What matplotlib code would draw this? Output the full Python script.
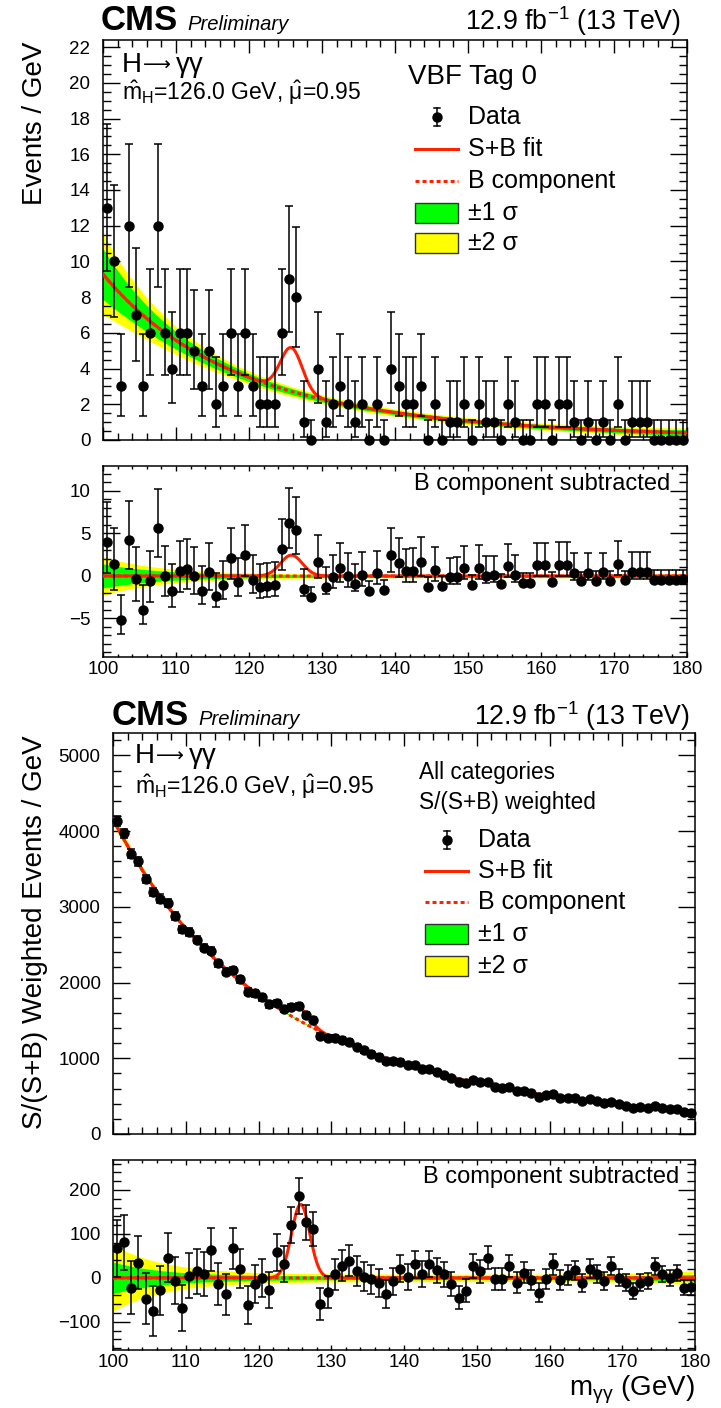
import numpy as np
import matplotlib
matplotlib.use("Agg")
import matplotlib.pyplot as plt
from matplotlib.lines import Line2D
from matplotlib.patches import Rectangle
from matplotlib.ticker import MultipleLocator, NullFormatter
from matplotlib.transforms import Affine2D

plt.rcParams["font.family"] = ["Liberation Sans", "DejaVu Sans"]
plt.rcParams["mathtext.fontset"] = "custom"
plt.rcParams["mathtext.rm"] = "Liberation Sans"
plt.rcParams["mathtext.it"] = "Liberation Sans:italic"
plt.rcParams["mathtext.bf"] = "Liberation Sans:bold"

# ---------------------------------------------------------------- data
# 1 GeV bins of diphoton mass
bin_edges = np.arange(100, 181, 1)
bin_centers = bin_edges[:-1] + 0.5

# VBF Tag 0: events per bin
vbf0_counts = np.array([
    13, 10, 3, 12, 7, 3, 6, 12, 6, 4,
    6, 6, 5, 3, 5, 2, 3, 6, 3, 6,
    3, 2, 2, 2, 6, 9, 8, 1, 0, 4,
    1, 2, 3, 2, 1, 2, 0, 2, 0, 4,
    3, 2, 2, 3, 0, 2, 0, 1, 1, 2,
    0, 2, 1, 1, 0, 2, 1, 0, 0, 2,
    2, 0, 2, 2, 1, 0, 1, 0, 1, 0,
    2, 0, 1, 1, 1, 0, 0, 0, 0, 0])

# 68% Poisson intervals for small counts: distance below / above the count
poisson_low = {0: 0.0, 1: 0.827, 2: 1.292, 3: 1.633, 4: 1.914, 5: 2.160, 6: 2.380,
               7: 2.581, 8: 2.768, 9: 2.943, 10: 3.108, 11: 3.266, 12: 3.415, 13: 3.559}
poisson_high = {0: 1.147, 1: 2.300, 2: 2.638, 3: 2.918, 4: 3.163, 5: 3.382, 6: 3.584,
                7: 3.770, 8: 3.945, 9: 4.109, 10: 4.265, 11: 4.414, 12: 4.559, 13: 4.697}

# All categories, S/(S+B) weighted events per bin
allcat_weighted = np.array([
    4135, 3972, 3702, 3600, 3368, 3198, 3109, 3055, 2880, 2702,
    2665, 2569, 2463, 2423, 2254, 2144, 2166, 2041, 1882, 1858,
    1804, 1711, 1734, 1647, 1679, 1689, 1578, 1512, 1293, 1274,
    1270, 1247, 1218, 1155, 1105, 1063, 1021, 962, 959, 957,
    909, 909, 860, 857, 817, 783, 737, 684, 678, 714,
    681, 693, 625, 607, 620, 565, 571, 539, 495, 511,
    530, 481, 479, 477, 436, 456, 433, 406, 429, 392,
    370, 341, 351, 345, 370, 343, 326, 330, 288, 281])

# fitted model parameters: power-law background + Gaussian signal
vbf0_bkg = dict(norm=9.29, index=5.35)
vbf0_sig = dict(amp=2.45, mean=125.8, width=1.5)
vbf0_band = dict(floor=0.12, low=1.30, low_len=8.0, high=0.05, high_len=8.0, ratio2=1.6)

allcat_bkg = dict(norm=4160.0, index=4.48)
allcat_sig = dict(amp=167.0, mean=125.8, width=1.25)
allcat_band = dict(floor=4.0, low=32.0, low_len=7.0, high=4.0, high_len=6.0, ratio2=2.1)

# ---------------------------------------------------------------- model
def background(x, p):
    return p["norm"] * (x / 100.0) ** (-p["index"])


def signal(x, p):
    return p["amp"] * np.exp(-0.5 * ((x - p["mean"]) / p["width"]) ** 2)


def band_width(x, p):
    return (p["floor"] + p["low"] * np.exp(-(x - 100.0) / p["low_len"])
            + p["high"] * np.exp((x - 180.0) / p["high_len"]))


RED = "#ff2200"
GREEN = "#00ff00"
YELLOW = "#ffff00"

W, H = 721, 1408
fig = plt.figure(figsize=(W / 100, H / 100), dpi=100)
pix = Affine2D().scale(1.0 / W, -1.0 / H).translate(0, 1) + fig.transFigure


def box(x0, y0, x1, y1):
    return [x0 / W, 1 - y1 / H, (x1 - x0) / W, (y1 - y0) / H]


ax1 = fig.add_axes(box(103, 40, 687, 440))
ax2 = fig.add_axes(box(103, 466, 687, 657))
ax3 = fig.add_axes(box(113, 733, 695, 1134))
ax4 = fig.add_axes(box(113, 1160, 695, 1350))

xs = np.linspace(100, 180, 1601)


def style_axis(ax, ymaj, ymin, xlen, labels):
    ax.set_xlim(100, 180)
    ax.xaxis.set_major_locator(MultipleLocator(10))
    ax.xaxis.set_minor_locator(MultipleLocator(2))
    ax.yaxis.set_major_locator(MultipleLocator(ymaj))
    ax.yaxis.set_minor_locator(MultipleLocator(ymin))
    ax.tick_params(which="both", direction="in", top=True, right=True,
                   width=1.0, colors="black", labelsize=13.5)
    ax.tick_params(axis="y", which="major", length=12.2, pad=9)
    ax.tick_params(axis="y", which="minor", length=5.8)
    ax.tick_params(axis="x", which="major", length=xlen, pad=3)
    ax.tick_params(axis="x", which="minor", length=xlen * 0.5)
    if not labels:
        ax.xaxis.set_major_formatter(NullFormatter())
    for s in ax.spines.values():
        s.set_linewidth(1.1)


def draw_main(ax, values, lo, hi, bp, sp, bandp):
    b = background(xs, bp)
    s1 = band_width(xs, bandp)
    s2 = s1 * bandp["ratio2"]
    ax.fill_between(xs, b - s2, b + s2, color=YELLOW, lw=0, zorder=1)
    ax.fill_between(xs, b - s1, b + s1, color=GREEN, lw=0, zorder=2)
    ax.plot(xs, b, color=RED, lw=2.2, ls=(0, (1.3, 1.0)), zorder=3)
    ax.plot(xs, b + signal(xs, sp), color=RED, lw=2.2, zorder=4)
    ax.errorbar(bin_centers, values, yerr=[lo, hi], fmt="o", color="black",
                ms=6.5, elinewidth=1.1, capsize=2.6, capthick=1.1,
                zorder=5, clip_on=False)


def draw_sub(ax, values, lo, hi, bp, sp, bandp):
    s1 = band_width(xs, bandp)
    s2 = s1 * bandp["ratio2"]
    ax.fill_between(xs, -s2, s2, color=YELLOW, lw=0, zorder=1)
    ax.fill_between(xs, -s1, s1, color=GREEN, lw=0, zorder=2)
    ax.plot(xs, np.zeros_like(xs), color=RED, lw=2.2, ls=(0, (1.3, 1.0)), zorder=3)
    ax.plot(xs, signal(xs, sp), color=RED, lw=2.2, zorder=4)
    resid = values - background(bin_centers, bp)
    ax.errorbar(bin_centers, resid, yerr=[lo, hi], fmt="o", color="black",
                ms=6.5, elinewidth=1.1, capsize=2.6, capthick=1.1, zorder=5)


# VBF Tag 0
vbf0_lo = np.array([poisson_low[n] for n in vbf0_counts])
vbf0_hi = np.array([poisson_high[n] for n in vbf0_counts])
draw_main(ax1, vbf0_counts, vbf0_lo, vbf0_hi, vbf0_bkg, vbf0_sig, vbf0_band)
style_axis(ax1, 2, 0.5, 9.4, False)
ax1.set_ylim(0, 22.4)

draw_sub(ax2, vbf0_counts, vbf0_lo, vbf0_hi, vbf0_bkg, vbf0_sig, vbf0_band)
style_axis(ax2, 5, 1, 3.8, True)
ax2.set_ylim(-9.53, 12.94)

# All categories, weighted
allcat_err = np.sqrt(allcat_weighted)
draw_main(ax3, allcat_weighted, allcat_err, allcat_err, allcat_bkg, allcat_sig, allcat_band)
style_axis(ax3, 1000, 200, 9.4, False)
ax3.set_ylim(0, 5297)

draw_sub(ax4, allcat_weighted, allcat_err, allcat_err, allcat_bkg, allcat_sig, allcat_band)
style_axis(ax4, 100, 20, 3.8, True)
ax4.set_ylim(-164, 268)

# ---------------------------------------------------------------- labels
def header(y_base, x_left, x_right):
    fig.text(x_left / W, 1 - y_base / H, "CMS", fontsize=25, fontweight="bold", ha="left", va="baseline")
    fig.text((x_left + 86) / W, 1 - y_base / H, "Preliminary", fontsize=14.6, style="italic", ha="left", va="baseline")
    fig.text(x_right / W, 1 - y_base / H, r"12.9 fb$^{\mathrm{-1}}$ (13 TeV)", fontsize=19.3, ha="right", va="baseline")


header(30, 101, 681)
header(725, 112, 690)

fig.text(35 / W, 1 - 42 / H, "Events / GeV", fontsize=20, rotation=90, ha="center", va="top")
fig.text(35 / W, 1 - 735 / H, "S/(S+B) Weighted Events / GeV", fontsize=20, rotation=90, ha="center", va="top")
fig.text(695 / W, 1 - 1390 / H, r"m$_{\mathrm{γγ}}$ (GeV)", fontsize=20, ha="right", va="center")


def h_to_gg(x, y):
    # "H", long arrow, "γγ" on a common baseline
    fig.text(x / W, 1 - y / H, "H", fontsize=20, ha="left", va="baseline")
    fig.text((x + 21) / W, 1 - (y - 1) / H, "\u27f6", fontsize=14, family="DejaVu Sans",
             ha="left", va="baseline")
    fig.text((x + 54) / W, 1 - y / H, "\u03b3\u03b3", fontsize=20, ha="left", va="baseline")


mu_text = r"$\hat{\mathrm{m}}_{\mathrm{H}}$=126.0 GeV, $\hat{\mathrm{μ}}$=0.95"
h_to_gg(122, 72)
fig.text(122 / W, 1 - 93 / H, mu_text, fontsize=16.5, ha="left", va="center")
h_to_gg(135, 763)
fig.text(135 / W, 1 - 787 / H, mu_text, fontsize=16.5, ha="left", va="center")

fig.text(408 / W, 1 - 77 / H, "VBF Tag 0", fontsize=20, ha="left", va="center")
fig.text(419 / W, 1 - 773 / H, "All categories", fontsize=16.3, ha="left", va="center")
fig.text(419 / W, 1 - 802 / H, "S/(S+B) weighted", fontsize=16.3, ha="left", va="center")

fig.text(670 / W, 1 - 484 / H, "B component subtracted", fontsize=17, ha="right", va="center")
fig.text(679 / W, 1 - 1177 / H, "B component subtracted", fontsize=17, ha="right", va="center")


def legend(x0, x1, rows, tx):
    yd, yf, yb, yg, yy = rows
    xm = 0.5 * (x0 + x1)
    fig.add_artist(Line2D([xm, xm], [yd - 9, yd + 9], color="black", lw=1.1, transform=pix))
    for yc in (yd - 9, yd + 9):
        fig.add_artist(Line2D([xm - 3, xm + 3], [yc, yc], color="black", lw=1.1, transform=pix))
    fig.add_artist(Line2D([xm], [yd], marker="o", ms=6.5, color="black", transform=pix))
    fig.add_artist(Line2D([x0, x1], [yf, yf], color=RED, lw=2.2, transform=pix))
    fig.add_artist(Line2D([x0, x1], [yb, yb], color=RED, lw=2.2, ls=(0, (1.3, 1.0)), transform=pix))
    fig.add_artist(Rectangle((x0, yg - 10), x1 - x0, 20, facecolor=GREEN, edgecolor="#333333", lw=1.0, transform=pix))
    fig.add_artist(Rectangle((x0, yy - 10), x1 - x0, 20, facecolor=YELLOW, edgecolor="#333333", lw=1.0, transform=pix))
    labels = ["Data", "S+B fit", "B component", "\u00b11 \u03c3", "\u00b12 \u03c3"]
    for y, t in zip(rows, labels):
        fig.text(tx / W, 1 - y / H, t, fontsize=18, ha="left", va="center")


legend(415, 458, [117, 149, 181, 213, 243], 468)
legend(425, 468, [840, 871, 902, 934, 966], 478)

fig.savefig("out.png", dpi=100)
